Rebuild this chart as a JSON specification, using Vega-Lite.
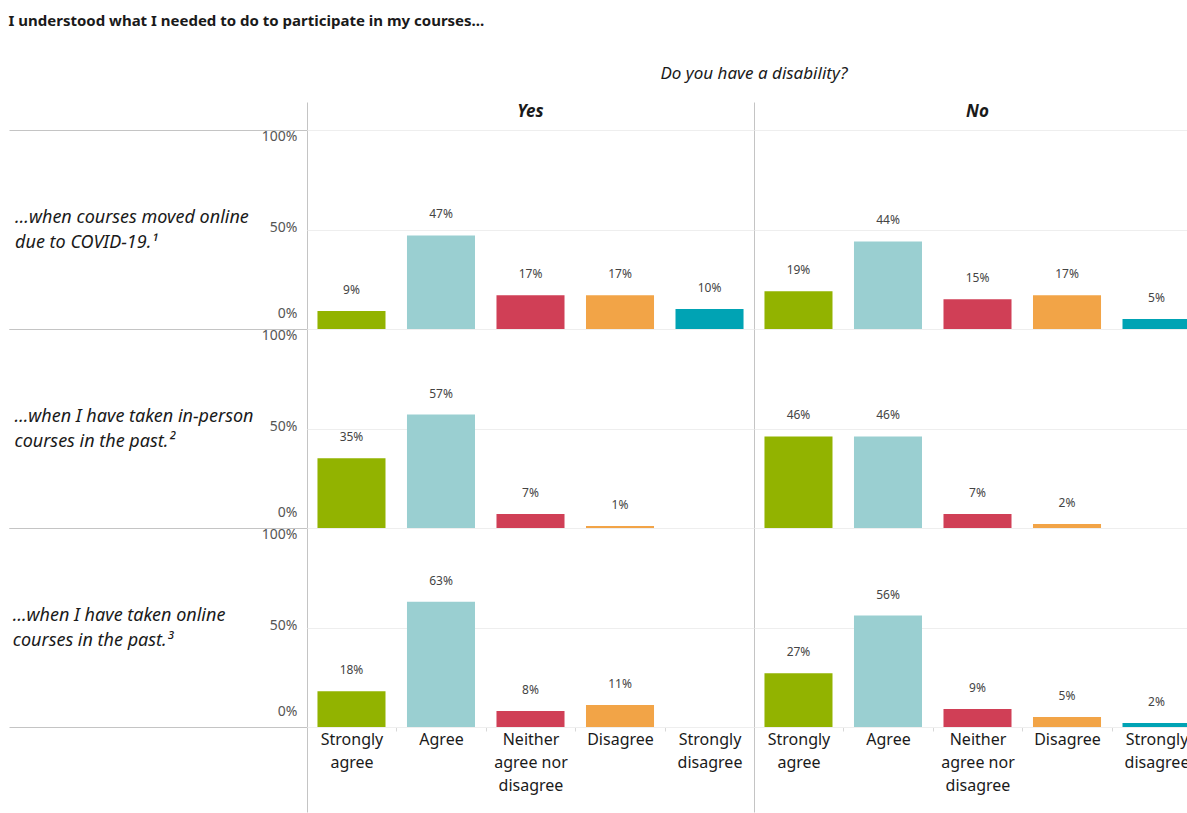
{
  "$schema": "https://vega.github.io/schema/vega-lite/v6.json",
  "padding": {"left": 8, "top": 14, "right": 0, "bottom": 40},
  "bounds": "flush",
  "title": {
    "text": "I understood what I needed to do to participate in my courses...",
    "anchor": "start",
    "frame": "bounds",
    "fontSize": 15,
    "fontWeight": "bold",
    "font": "Noto Sans",
    "color": "#1a1a1a",
    "offset": 36
  },
  "data": {
    "values": [
      {"q": "…when courses moved online due to COVID-19.¹", "d": "Yes", "r": "Strongly agree", "v": 0.09},
      {"q": "…when courses moved online due to COVID-19.¹", "d": "Yes", "r": "Agree", "v": 0.47},
      {"q": "…when courses moved online due to COVID-19.¹", "d": "Yes", "r": "Neither agree nor disagree", "v": 0.17},
      {"q": "…when courses moved online due to COVID-19.¹", "d": "Yes", "r": "Disagree", "v": 0.17},
      {"q": "…when courses moved online due to COVID-19.¹", "d": "Yes", "r": "Strongly disagree", "v": 0.10},
      {"q": "…when courses moved online due to COVID-19.¹", "d": "No", "r": "Strongly agree", "v": 0.19},
      {"q": "…when courses moved online due to COVID-19.¹", "d": "No", "r": "Agree", "v": 0.44},
      {"q": "…when courses moved online due to COVID-19.¹", "d": "No", "r": "Neither agree nor disagree", "v": 0.15},
      {"q": "…when courses moved online due to COVID-19.¹", "d": "No", "r": "Disagree", "v": 0.17},
      {"q": "…when courses moved online due to COVID-19.¹", "d": "No", "r": "Strongly disagree", "v": 0.05},
      {"q": "…when I have taken in-person courses in the past.²", "d": "Yes", "r": "Strongly agree", "v": 0.35},
      {"q": "…when I have taken in-person courses in the past.²", "d": "Yes", "r": "Agree", "v": 0.57},
      {"q": "…when I have taken in-person courses in the past.²", "d": "Yes", "r": "Neither agree nor disagree", "v": 0.07},
      {"q": "…when I have taken in-person courses in the past.²", "d": "Yes", "r": "Disagree", "v": 0.01},
      {"q": "…when I have taken in-person courses in the past.²", "d": "No", "r": "Strongly agree", "v": 0.46},
      {"q": "…when I have taken in-person courses in the past.²", "d": "No", "r": "Agree", "v": 0.46},
      {"q": "…when I have taken in-person courses in the past.²", "d": "No", "r": "Neither agree nor disagree", "v": 0.07},
      {"q": "…when I have taken in-person courses in the past.²", "d": "No", "r": "Disagree", "v": 0.02},
      {"q": "…when I have taken online courses in the past.³", "d": "Yes", "r": "Strongly agree", "v": 0.18},
      {"q": "…when I have taken online courses in the past.³", "d": "Yes", "r": "Agree", "v": 0.63},
      {"q": "…when I have taken online courses in the past.³", "d": "Yes", "r": "Neither agree nor disagree", "v": 0.08},
      {"q": "…when I have taken online courses in the past.³", "d": "Yes", "r": "Disagree", "v": 0.11},
      {"q": "…when I have taken online courses in the past.³", "d": "No", "r": "Strongly agree", "v": 0.27},
      {"q": "…when I have taken online courses in the past.³", "d": "No", "r": "Agree", "v": 0.56},
      {"q": "…when I have taken online courses in the past.³", "d": "No", "r": "Neither agree nor disagree", "v": 0.09},
      {"q": "…when I have taken online courses in the past.³", "d": "No", "r": "Disagree", "v": 0.05},
      {"q": "…when I have taken online courses in the past.³", "d": "No", "r": "Strongly disagree", "v": 0.02}
    ]
  },
  "facet": {
    "row": {
      "field": "q",
      "type": "nominal",
      "sort": ["…when courses moved online due to COVID-19.¹", "…when I have taken in-person courses in the past.²", "…when I have taken online courses in the past.³"],
      "header": {
        "title": null,
        "labelAngle": 0,
        "labelAlign": "left",
        "labelOrient": "left",
        "labelBaseline": "line-bottom",
        "labelFont": "Noto Sans",
        "labelFontSize": 18,
        "labelFontStyle": "italic",
        "labelColor": "#1a1a1a",
        "labelLineHeight": 25,
        "labelPadding": -245,
        "labelLimit": 400,
        "labelExpr": "datum.value == '…when courses moved online due to COVID-19.¹' ? ['…when courses moved online\u00a0\u200b', 'due to COVID-19.¹'] : datum.value == '…when I have taken in-person courses in the past.²' ? ['…when I have taken in-person', 'courses in the past.²'] : ['…when I have taken online\u00a0\u00a0\u00a0\u00a0\u00a0\u00a0\u200b', 'courses in the past.³']"
      }
    },
    "column": {
      "field": "d",
      "type": "nominal",
      "sort": ["Yes", "No"],
      "title": "Do you have a disability?",
      "header": {
        "titleFont": "Noto Sans",
        "titleFontSize": 17,
        "titleFontStyle": "italic",
        "titleFontWeight": "normal",
        "titleColor": "#1a1a1a",
        "titlePadding": 8,
        "labelFont": "Noto Sans",
        "labelFontSize": 17,
        "labelFontStyle": "italic",
        "labelFontWeight": "bold",
        "labelColor": "#1a1a1a",
        "labelPadding": -19
      }
    }
  },
  "spacing": 0,
  "spec": {
    "width": 447,
    "height": 199,
    "encoding": {
      "x": {
        "field": "r",
        "type": "nominal",
        "sort": ["Strongly agree", "Agree", "Neither agree nor disagree", "Disagree", "Strongly disagree"],
        "scale": {"paddingInner": 0.24, "paddingOuter": 0.117},
        "axis": {
          "title": null,
          "labelAngle": 0,
          "labelFont": "Noto Sans",
          "labelFontSize": 16,
          "labelColor": "#1a1a1a",
          "labelLineHeight": 23,
          "labelPadding": -81,
          "labelBaseline": "top",
          "labelLimit": 120,
          "labelOffset": 10.5,
          "domain": false,
          "bandPosition": 0,
          "tickExtra": false,
          "tickOffset": -10.5,
          "tickSize": 85,
          "tickColor": {"condition": {"test": "datum.value === 'Strongly agree'", "value": "#c4c4c4"}, "value": "#d8d8d8"},
          "tickDash": {"condition": {"test": "datum.value === 'Strongly agree'", "value": []}, "value": [4, 300]},
          "labelExpr": "!isValid(datum.value) ? '' : datum.value == 'Neither agree nor disagree' ? ['Neither', 'agree nor', 'disagree'] : split(datum.value, ' ')"
        }
      },
      "y": {
        "field": "v",
        "type": "quantitative",
        "scale": {"domain": [0, 1]},
        "axis": {
          "title": null,
          "values": [0, 0.5, 1],
          "format": ".0%",
          "domain": false,
          "grid": true,
          "gridColor": "#eeeeee",
          "ticks": true,
          "tickSize": 298,
          "tickColor": {"condition": {"test": "datum.value == 0.5", "value": "transparent"}, "value": "#c4c4c4"},
          "labelPadding": -288,
          "labelFont": "Noto Sans",
          "labelFontSize": 14,
          "labelColor": "#555555",
          "labelFlush": true,
          "labelOffset": {"condition": {"test": "datum.value == 0.5", "value": -2}, "value": -4.5},
          "labelFlushOffset": -4
        }
      }
    },
    "layer": [
      {
        "mark": {"type": "bar"},
        "encoding": {
          "color": {
            "field": "r",
            "type": "nominal",
            "legend": null,
            "scale": {
              "domain": ["Strongly agree", "Agree", "Neither agree nor disagree", "Disagree", "Strongly disagree"],
              "range": ["#92b300", "#9acfd1", "#d03f56", "#f2a447", "#00a3b4"]
            }
          }
        }
      },
      {
        "mark": {"type": "text", "dy": -21, "baseline": "middle", "font": "Noto Sans", "fontSize": 12, "color": "#444444"},
        "encoding": {
          "x": {
            "field": "r",
            "type": "nominal",
            "sort": ["Strongly agree", "Agree", "Neither agree nor disagree", "Disagree", "Strongly disagree"],
            "scale": {"paddingInner": 0.24, "paddingOuter": 0.117},
            "axis": {
              "orient": "top",
              "title": null,
              "labels": false,
              "domain": false,
              "grid": false,
              "bandPosition": 0,
              "tickExtra": false,
              "tickOffset": -10.5,
              "tickSize": 28,
              "tickColor": "#c4c4c4",
              "tickOpacity": {"condition": {"test": "datum.value === 'Strongly agree'", "value": 1}, "value": 0}
            }
          },
          "text": {"field": "v", "type": "quantitative", "format": ".0%"}
        }
      }
    ],
    "resolve": {"axis": {"x": "independent"}}
  },
  "config": {
    "view": {"stroke": "#c4c4c4", "strokeWidth": 1},
    "font": "Noto Sans"
  }
}
